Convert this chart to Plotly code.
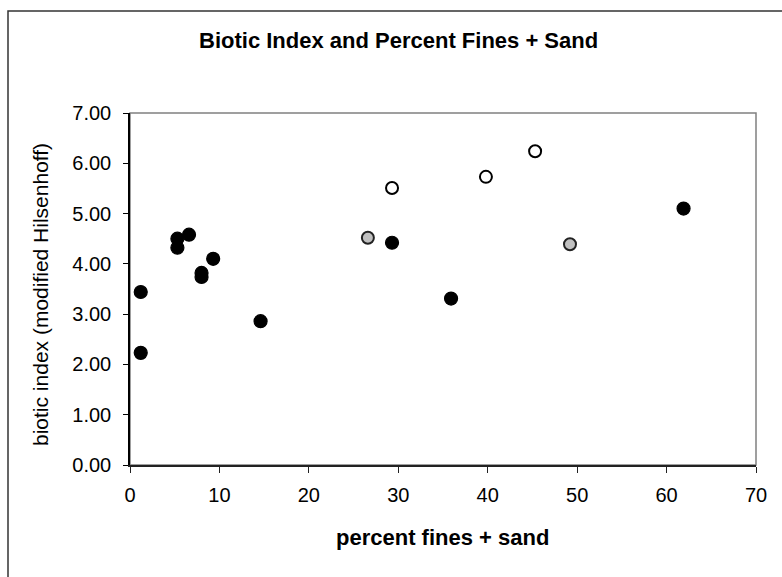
import plotly.graph_objects as go

# Sites grouped by marker style
solid_fines = [1.2, 1.2, 5.3, 5.3, 6.6, 8.0, 8.0, 9.3, 14.6, 29.3, 35.9, 61.9]
solid_index = [3.44, 2.23, 4.50, 4.32, 4.58, 3.82, 3.74, 4.10, 2.86, 4.42, 3.31, 5.10]

open_fines = [29.3, 39.8, 45.3]
open_index = [5.51, 5.73, 6.24]

grey_fines = [26.6, 49.2]
grey_index = [4.52, 4.39]

x_ticks = [0, 10, 20, 30, 40, 50, 60, 70]
y_ticks = [0, 1, 2, 3, 4, 5, 6, 7]

FONT = "Liberation Sans, Arial, sans-serif"

fig = go.Figure()
fig.add_trace(go.Scatter(
    x=solid_fines, y=solid_index, mode="markers",
    marker=dict(size=13, color="black", line=dict(color="black", width=1.2)),
))
fig.add_trace(go.Scatter(
    x=open_fines, y=open_index, mode="markers",
    marker=dict(size=12, color="white", line=dict(color="black", width=2)),
))
fig.add_trace(go.Scatter(
    x=grey_fines, y=grey_index, mode="markers",
    marker=dict(size=12, color="#c0c0c0", line=dict(color="#222222", width=2)),
))

L, R, T, B = 130, 26, 113, 112
W, H = 782, 577
pw, ph = W - L - R, H - T - B

def px_x(p):
    return (p - L) / pw

def px_y(p):
    return (H - B - p) / ph

fig.update_layout(
    width=W, height=H,
    margin=dict(l=L, r=R, t=T, b=B),
    paper_bgcolor="white", plot_bgcolor="white",
    showlegend=False,
    font=dict(family=FONT, color="black", size=20),
    xaxis=dict(
        range=[0, 70], tickvals=x_ticks, ticktext=[str(v) for v in x_ticks],
        showgrid=False, zeroline=False,
        showline=True, linecolor="#222222", linewidth=1.5,
        ticks="outside", ticklen=6, tickwidth=1, tickcolor="#222222",
        tickfont=dict(size=20, family=FONT), ticklabelstandoff=5,
    ),
    yaxis=dict(
        range=[0, 7], tickvals=y_ticks, ticktext=[f"{v:.2f}" for v in y_ticks],
        showgrid=False, zeroline=False,
        showline=True, linecolor="black", linewidth=1.5,
        ticks="outside", ticklen=5, tickwidth=1, tickcolor="black",
        tickfont=dict(size=20, family=FONT), ticklabelstandoff=8,
    ),
    shapes=[
        # plot area frame (top and right edges in grey)
        dict(type="rect", xref="paper", yref="paper", x0=0, x1=1, y0=0, y1=1,
             line=dict(color="#808080", width=1.5), layer="below"),
        # chart area frame
        dict(type="rect", xref="paper", yref="paper",
             x0=px_x(8), x1=px_x(800), y0=px_y(600), y1=px_y(11),
             line=dict(color="#333333", width=1.5), layer="below"),
    ],
    annotations=[
        dict(text="<b>Biotic Index and Percent Fines + Sand</b>",
             xref="paper", yref="paper", x=px_x(398), y=px_y(40),
             xanchor="center", yanchor="middle", showarrow=False,
             font=dict(size=22, family=FONT, color="black")),
        dict(text="<b>percent fines + sand</b>",
             xref="paper", yref="paper", x=px_x(442), y=px_y(537),
             xanchor="center", yanchor="middle", showarrow=False,
             font=dict(size=22, family=FONT, color="black")),
        dict(text="biotic index (modified Hilsenhoff)",
             xref="paper", yref="paper", x=px_x(40), y=px_y(295),
             xanchor="center", yanchor="middle", showarrow=False, textangle=-90,
             font=dict(size=21, family=FONT, color="black")),
    ],
)

fig.write_html("out.html")
